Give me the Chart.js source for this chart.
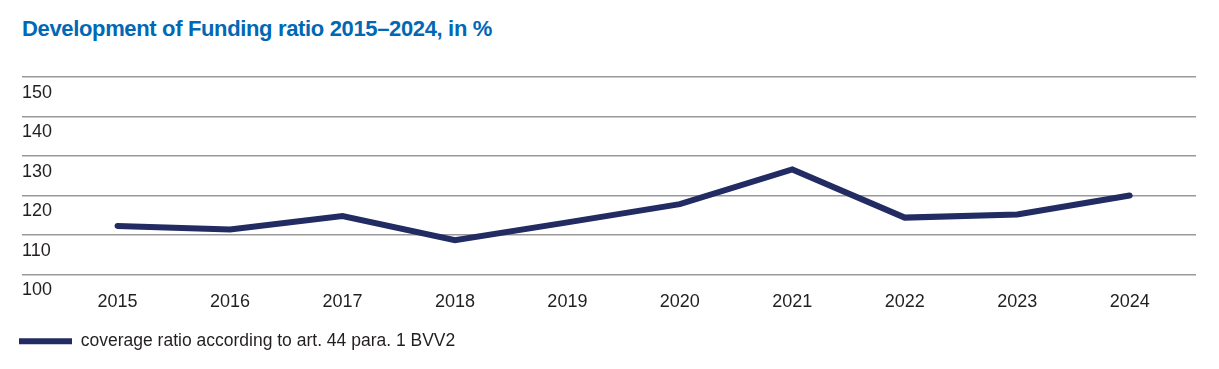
<!DOCTYPE html>
<html>
<head>
<meta charset="utf-8">
<script src="https://cdn.jsdelivr.net/npm/chart.js@4/dist/chart.umd.min.js"></script>
<style>
  body { margin: 0; background: #fff; }
  .wrap { position: relative; width: 1219px; height: 369px; }
  .title {
    position: absolute; left: 22px; top: 18px;
    font: bold 22px "Liberation Sans", Arial, sans-serif;
    line-height: 22px; letter-spacing: -0.35px;
    color: #0068b4; white-space: nowrap;
  }
  canvas { position: absolute; left: 0; top: 0; }
</style>
</head>
<body>
<div class="wrap">
  <div class="title">Development of Funding ratio 2015–2024, in %</div>
  <canvas id="fundingChart" width="1219" height="369"></canvas>
</div>
<script>
// data
const years = [2015, 2016, 2017, 2018, 2019, 2020, 2021, 2022, 2023, 2024];
const coverageRatio = [112.3, 111.4, 114.8, 108.7, 113.2, 117.8, 126.6, 114.4, 115.2, 120.0];
const yTicks = [100, 110, 120, 130, 140, 150];
const seriesLabel = "coverage ratio according to art. 44 para. 1 BVV2";

const navy = "#222b62";
const textColor = "#231f20";
const fontFamily = '"Liberation Sans", Arial, sans-serif';

const ctx = document.getElementById("fundingChart").getContext("2d");

new Chart(ctx, {
  type: "line",
  data: {
    datasets: [
      {
        label: seriesLabel,
        data: years.map((y, i) => ({ x: y, y: coverageRatio[i] })),
        borderColor: navy,
        backgroundColor: navy,
        borderWidth: 6,
        borderCapStyle: "round",
        borderJoinStyle: "miter",
        pointRadius: 0,
        tension: 0,
      },
    ],
  },
  options: {
    responsive: false,
    animation: false,
    layout: { padding: { top: 77, left: 0, right: 23, bottom: 9 } },
    plugins: {
      tooltip: { enabled: false },
      legend: {
        position: "bottom",
        align: "start",
        labels: {
          usePointStyle: true,
          pointStyle: "line",
          pointStyleWidth: 53,
          boxHeight: 17,
          padding: 19,
          color: textColor,
          font: { family: fontFamily, size: 17.5 },
        },
      },
    },
    scales: {
      x: {
        type: "linear",
        min: 2014.15,
        max: 2024.59,
        grid: { display: false },
        border: { display: false },
        afterBuildTicks: (scale) => {
          scale.ticks = years.map((v) => ({ value: v }));
        },
        afterFit: (scale) => {
          scale.height = 39;
        },
        ticks: {
          padding: 9,
          color: textColor,
          font: { family: fontFamily, size: 18 },
          callback: (v) => String(v),
        },
      },
      y: {
        min: 100,
        max: 150,
        afterBuildTicks: (scale) => {
          scale.ticks = yTicks.map((v) => ({ value: v }));
        },
        afterFit: (scale) => {
          scale.width = 22;
        },
        grid: { color: "#999999", lineWidth: 1.5, drawTicks: false },
        border: { display: false },
        ticks: {
          mirror: true,
          padding: 0,
          labelOffset: 16,
          color: textColor,
          font: { family: fontFamily, size: 18 },
        },
      },
    },
  },
});
</script>
</body>
</html>
